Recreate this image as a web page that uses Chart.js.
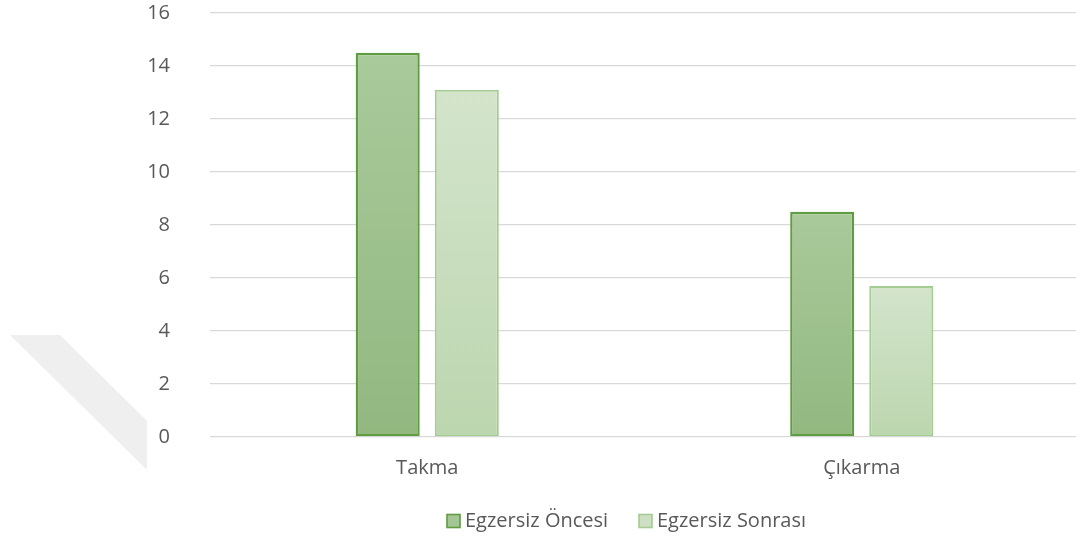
<!DOCTYPE html>
<html lang="tr">
<head>
<meta charset="utf-8">
<title>Egzersiz Öncesi ve Sonrası</title>
<script src="https://cdn.jsdelivr.net/npm/chart.js@4.4.1/dist/chart.umd.min.js"></script>
<style>
  html, body { margin: 0; padding: 0; background: #ffffff; overflow: hidden; }
  #wrap { position: relative; width: 1079px; height: 540px; }
</style>
</head>
<body>
<div id="wrap"><canvas id="chart"></canvas></div>
<script>
// Categories and series
const categories = ['Takma', 'Çıkarma'];
const seriesNames = ['Egzersiz Öncesi', 'Egzersiz Sonrası'];
const oncesiValues = [14.5, 8.5];
const sonrasiValues = [13.1, 5.7];
const yTicks = [0, 2, 4, 6, 8, 10, 12, 14, 16];

// Fill gradients (top, bottom) and outline colours per series
const fills = [['#a9ca9b', '#92b880'], ['#d3e4cb', '#bcd6af']];
const outlines = ['#609c41', '#a5cc92'];
const legendFills = ['#a3c694', '#cde0c4'];

const FONT = '"Open Sans", "Liberation Sans", sans-serif';
const TEXT = '#595959';

function barGradient(seriesIndex) {
  return (ctx) => {
    const chart = ctx.chart;
    const area = chart.chartArea;
    if (!area || ctx.raw == null) return fills[seriesIndex][1];
    const y = chart.scales.y;
    const top = y.getPixelForValue(ctx.raw);
    const bottom = y.getPixelForValue(0);
    const g = chart.ctx.createLinearGradient(0, top, 0, bottom);
    g.addColorStop(0, fills[seriesIndex][0]);
    g.addColorStop(1, fills[seriesIndex][1]);
    return g;
  };
}

// Faint grey band in the lower left background
const backdrop = {
  id: 'backdrop',
  beforeDraw(chart) {
    const c = chart.ctx;
    c.save();
    c.fillStyle = '#efefef';
    c.beginPath();
    c.moveTo(10, 335);
    c.lineTo(60, 335);
    c.lineTo(147, 421);
    c.lineTo(147, 470);
    c.closePath();
    c.fill();
    c.restore();
  }
};

// Legend row under the axis
const legendRow = {
  id: 'legendRow',
  afterDraw(chart) {
    const c = chart.ctx;
    c.save();
    c.font = '20px ' + FONT;
    c.textBaseline = 'middle';
    c.textAlign = 'left';
    const cy = 521;
    const box = 13;
    const starts = [447, 639];
    chart.data.datasets.forEach((ds, i) => {
      const x = starts[i];
      c.fillStyle = legendFills[i];
      c.fillRect(x, cy - box / 2, box, box);
      c.strokeStyle = outlines[i];
      c.lineWidth = 1.6;
      c.strokeRect(x, cy - box / 2, box, box);
      c.fillStyle = TEXT;
      c.fillText(ds.label, x + box + 5, cy);
    });
    c.restore();
  }
};

new Chart(document.getElementById('chart'), {
  type: 'bar',
  data: {
    labels: categories,
    datasets: [
      {
        label: seriesNames[0],
        data: oncesiValues,
        backgroundColor: barGradient(0),
        borderColor: outlines[0],
        borderWidth: 2.4,
        borderSkipped: false,
        barPercentage: 0.81,
        categoryPercentage: 0.364
      },
      {
        label: seriesNames[1],
        data: sonrasiValues,
        backgroundColor: barGradient(1),
        borderColor: outlines[1],
        borderWidth: 2,
        borderSkipped: false,
        barPercentage: 0.81,
        categoryPercentage: 0.364
      }
    ]
  },
  options: {
    responsive: true,
    maintainAspectRatio: false,
    animation: false,
    devicePixelRatio: 1,
    layout: { padding: { top: 13, right: 0, bottom: 0, left: 0 } },
    plugins: {
      legend: { display: false },
      tooltip: { enabled: false }
    },
    scales: {
      x: {
        grid: { display: false, drawTicks: false },
        border: { display: false },
        ticks: { color: TEXT, font: { family: FONT, size: 20 }, padding: 19 },
        afterFit(scale) { scale.height = 103; }
      },
      y: {
        min: 0,
        max: 16,
        afterBuildTicks(scale) { scale.ticks = yTicks.map(v => ({ value: v })); },
        grid: { color: '#d9d9d9', lineWidth: 1.3, drawTicks: true, tickLength: 40, tickColor: 'rgba(0,0,0,0)' },
        border: { display: false },
        ticks: { color: TEXT, font: { family: FONT, size: 20 }, padding: 0 },
        afterFit(scale) { scale.width = 210; }
      }
    }
  },
  plugins: [backdrop, legendRow]
});
</script>
</body>
</html>
